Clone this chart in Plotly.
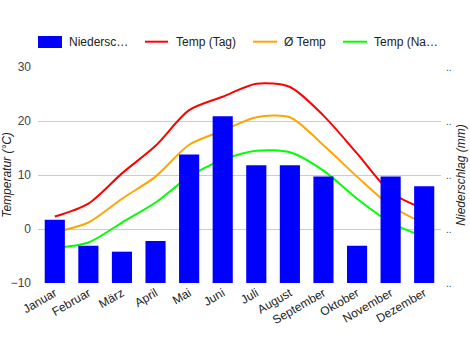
import plotly.graph_objects as go

months = ["Januar", "Februar", "März", "April", "Mai", "Juni", "Juli",
          "August", "September", "Oktober", "November", "Dezember"]
niederschlag = [11.7, 6.9, 5.8, 7.8, 23.8, 30.9, 21.8, 21.8, 19.7, 6.9, 19.7, 17.9]
temp_tag = [2.3, 4.7, 10.3, 15.4, 22.0, 24.5, 26.9, 26.3, 21.0, 14.0, 6.8, 3.7]
temp_avg = [-0.6, 1.2, 5.6, 9.7, 15.6, 18.2, 20.7, 20.7, 15.5, 9.7, 4.3, 1.0]
temp_nacht = [-3.5, -2.5, 1.2, 4.9, 9.7, 12.8, 14.5, 14.2, 10.8, 5.6, 1.2, -1.4]
left_ticks = [-10, 0, 10, 20, 30]
right_ticks = [0, 10, 20, 30, 40]
legend_names = ["Niedersc…", "Temp (Tag)", "Ø Temp", "Temp (Na…"]
colors = ["#0000ff", "#ff0000", "#ffa500", "#00ff00"]

FONT = "Liberation Sans, Arial, sans-serif"

fig = go.Figure()
fig.add_trace(go.Bar(x=months, y=niederschlag, name=legend_names[0],
                     marker=dict(color=colors[0], line=dict(width=0)),
                     yaxis="y2", width=0.6, showlegend=False))
for vals, name, col in zip([temp_tag, temp_avg, temp_nacht], legend_names[1:], colors[1:]):
    fig.add_trace(go.Scatter(x=months, y=vals, name=name, mode="lines",
                             line=dict(color=col, width=2, shape="spline", smoothing=0.8),
                             showlegend=False))

# plot area in pixels: x 38..441, y 67..283
L, R, T, B = 38, 441, 67, 283
def px(x):
    return (x - L) / (R - L)
def py(y):
    return (B - y) / (B - T)

shapes = []
annotations = []
ly = 41.7
# legend: bar swatch
shapes.append(dict(type="rect", xref="paper", yref="paper",
                   x0=px(38), x1=px(62), y0=py(48), y1=py(36),
                   fillcolor=colors[0], line=dict(width=0)))
annotations.append(dict(xref="paper", yref="paper", x=px(67), y=py(ly), text=legend_names[0],
                        showarrow=False, xanchor="left", yanchor="middle",
                        font=dict(family=FONT, size=12, color="#222")))
for (x0, x1, tx), name, col in zip([(145, 168, 174), (253, 277, 282), (343, 367, 372)],
                                   legend_names[1:], colors[1:]):
    shapes.append(dict(type="line", xref="paper", yref="paper",
                       x0=px(x0), x1=px(x1), y0=py(ly), y1=py(ly),
                       line=dict(color=col, width=2)))
    annotations.append(dict(xref="paper", yref="paper", x=px(tx), y=py(ly), text=name,
                            showarrow=False, xanchor="left", yanchor="middle",
                            font=dict(family=FONT, size=12, color="#222")))

fig.update_layout(
    width=470, height=350,
    margin=dict(l=L, r=470 - R, t=T, b=350 - B, pad=0),
    paper_bgcolor="white", plot_bgcolor="white",
    font=dict(family=FONT, size=12, color="#444"),
    bargap=0.4,
    shapes=shapes, annotations=annotations,
    xaxis=dict(tickangle=-30, tickfont=dict(size=12, color="#222"), showgrid=False,
               ticks="", showline=False, automargin=False),
    yaxis=dict(range=[-10, 30], tickvals=left_ticks, gridcolor="#cccccc", gridwidth=1,
               zeroline=False, showline=False, ticks="", ticklabelstandoff=6,
               tickfont=dict(size=12, color="#444"),
               title=dict(text="<i>Temperatur (°C)</i>", standoff=8,
                          font=dict(size=12, color="#222")),
               automargin=False),
    yaxis2=dict(range=[0, 40], tickvals=right_ticks, ticktext=[".."] * 5,
                overlaying="y", side="right", showgrid=False, zeroline=False,
                tickfont=dict(size=10, color="#444"), ticklabelstandoff=4,
                title=dict(text="<i>Niederschlag (mm)</i>", standoff=6,
                           font=dict(size=12, color="#222")),
                automargin=False),
)

fig.write_html("out.html")
